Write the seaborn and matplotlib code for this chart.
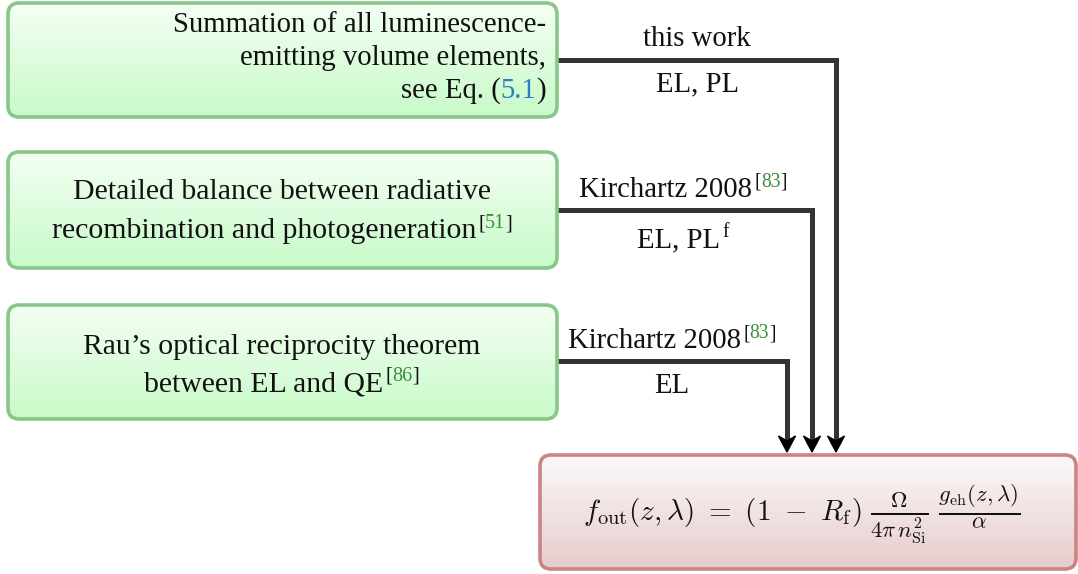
import matplotlib
matplotlib.use("Agg")
import matplotlib.pyplot as plt
import seaborn as sns
import numpy as np
from matplotlib.patches import FancyBboxPatch, Polygon
from matplotlib.colors import LinearSegmentedColormap

# ---------------- data ----------------
# source boxes: list of lines, each line a list of (text, colour-key, superscript?)
source_lines = [
    [[("Summation of all luminescence-", "k", False)],
     [("emitting volume elements,", "k", False)],
     [("see Eq. (", "k", False), ("5.1", "blue", False), (")", "k", False)]],
    [[("Detailed balance between radiative", "k", False)],
     [("recombination and photogeneration", "k", False), ("[", "k", True), ("51", "green", True), ("]", "k", True)]],
    [[("Rau\u2019s optical reciprocity theorem", "k", False)],
     [("between EL and QE", "k", False), ("[", "k", True), ("86", "green", True), ("]", "k", True)]],
]
source_align = ["right", "center", "center"]
labels_above = [
    [("this work", "k", False)],
    [("Kirchartz 2008", "k", False), ("[", "k", True), ("83", "green", True), ("]", "k", True)],
    [("Kirchartz 2008", "k", False), ("[", "k", True), ("83", "green", True), ("]", "k", True)],
]
labels_below = [
    [("EL, PL", "k", False)],
    [("EL, PL", "k", False), ("f", "k", True)],
    [("EL", "k", False)],
]
equation_main = r"$f_{\mathrm{out}}(z,\lambda)\ =\ (1\ -\ R_{\mathrm{f}})$"
equation_frac = r"$\frac{\Omega}{4\pi\,n_{\mathrm{Si}}^{2}}\;\frac{g_{\mathrm{eh}}(z,\lambda)}{\alpha}$"

# ---------------- layout (pixels) ----------------
W, H = 1078, 574
src_box = [(8, 3, 557, 117), (8, 152, 557, 268), (8, 305, 557, 419)]
src_baselines = [[32, 65, 98], [199, 238], [354, 391]]
src_text_x = [546, 282, 282]
src_fs = [20.7, 21.5, 21.4]
line_y = [60, 210, 361]
line_x = [836, 812, 787]
above_base = [46, 197, 348]
below_base = [91, 247, 393]
label_cx = [697, 683, 672]
tip_y = 452
tgt_box = (540, 455, 1076, 569)
eq_center_x = 802
eq_base = 520

colors = {"k": "#111111", "blue": "#2a7fc4", "green": "#3b8e3b"}
FS = 20.7
SUP_RATIO = 0.68

sns.set_theme(style="white")
plt.rcParams["font.family"] = ["Liberation Serif", "DejaVu Serif"]
plt.rcParams["mathtext.fontset"] = "cm"

fig = plt.figure(figsize=(W / 100, H / 100), dpi=100)
ax = fig.add_axes([0, 0, 1, 1])
ax.set_xlim(0, W)
ax.set_ylim(H, 0)
ax.axis("off")
renderer = fig.canvas.get_renderer()


def gradient_box(x0, y0, x1, y1, c_top, c_bot, edge):
    patch = FancyBboxPatch((x0, y0), x1 - x0, y1 - y0,
                           boxstyle="round,pad=0,rounding_size=11",
                           facecolor="none", edgecolor=edge, lw=2.6, zorder=4)
    ax.add_patch(patch)
    cmap = LinearSegmentedColormap.from_list("g", [c_top, c_bot])
    grad = np.linspace(0, 1, 256).reshape(-1, 1)
    im = ax.imshow(grad, cmap=cmap, extent=(x0, x1, y1, y0), origin="upper",
                   aspect="auto", zorder=3)
    im.set_clip_path(patch)


def draw_segments(segs, x, base, ha, fs=FS):
    arts = []
    for txt, ck, sup in segs:
        t = ax.text(0, 0, txt, fontsize=fs * SUP_RATIO if sup else fs, color=colors[ck],
                    va="baseline", ha="left", zorder=6)
        arts.append((t, sup))
    widths = [a.get_window_extent(renderer).width for a, _ in arts]
    total = sum(widths) + (2 if any(s for _, s in arts) else 0)
    if ha == "right":
        cx = x - total
    elif ha == "center":
        cx = x - total / 2
    else:
        cx = x
    prev_sup = False
    for (a, sup), w in zip(arts, widths):
        if sup and not prev_sup:
            cx += 2
        a.set_position((cx, base - (10 if sup else 0)))
        cx += w
        prev_sup = sup


# connectors
for y, x in zip(line_y, line_x):
    ax.plot([src_box[0][2], x, x], [y, y, tip_y - 10], color="#333333", lw=3.6,
            solid_joinstyle="miter", solid_capstyle="butt", zorder=2)
    hw, hl, notch = 8.5, 16, 5
    ax.add_patch(Polygon([(x - hw, tip_y - hl), (x, tip_y), (x + hw, tip_y - hl),
                          (x, tip_y - hl + notch)], closed=True, color="black", zorder=2))

# source boxes
for (x0, y0, x1, y1), lines, bases, tx, ha, fs in zip(src_box, source_lines, src_baselines,
                                                      src_text_x, source_align, src_fs):
    gradient_box(x0, y0, x1, y1, "#f4fff4", "#c8fac8", "#88c788")
    for segs, b in zip(lines, bases):
        draw_segments(segs, tx, b, ha, fs)

# labels
for segs, b, cx in zip(labels_above, above_base, label_cx):
    draw_segments(segs, cx, b, "center")
for segs, b, cx in zip(labels_below, below_base, label_cx):
    draw_segments(segs, cx, b, "center")

# target box
gradient_box(*tgt_box, "#fcf8f8", "#e6cccc", "#c98484")
t_main = ax.text(0, eq_base, equation_main, fontsize=21, ha="left", va="baseline",
                 color="#111111", zorder=6)
t_frac = ax.text(0, eq_base, equation_frac, fontsize=23.5, ha="left", va="baseline",
                 color="#111111", zorder=6)
w_main = t_main.get_window_extent(renderer).width
w_frac = t_frac.get_window_extent(renderer).width
gap = 8
x_start = eq_center_x - (w_main + gap + w_frac) / 2
t_main.set_x(x_start)
t_frac.set_x(x_start + w_main + gap)

fig.savefig("out.png", dpi=100)
